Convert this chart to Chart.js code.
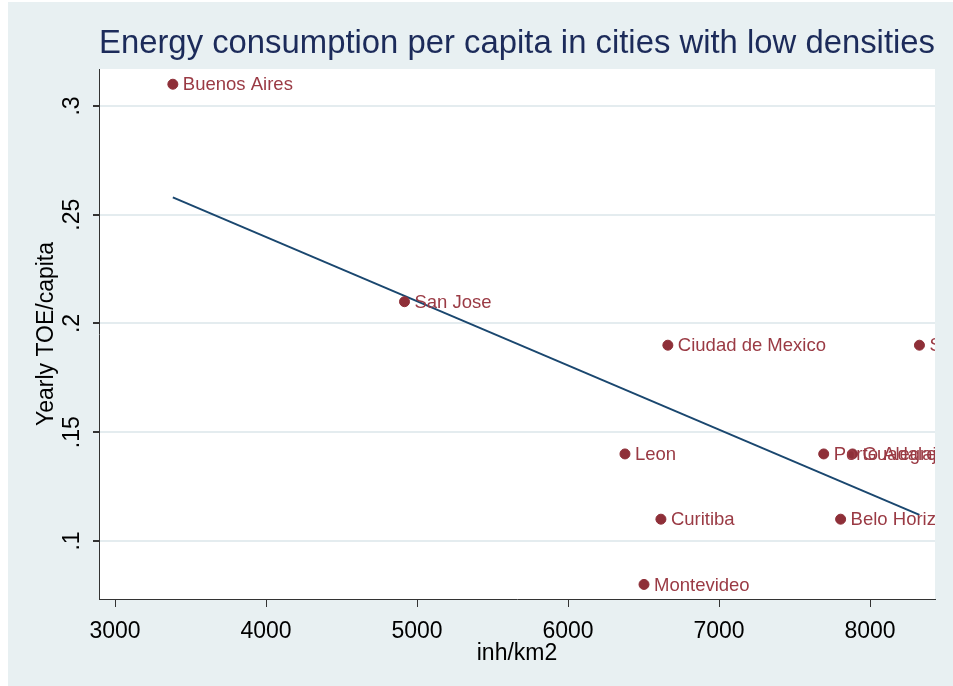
<!DOCTYPE html>
<html>
<head>
<meta charset="utf-8">
<script src="https://cdn.jsdelivr.net/npm/chart.js@4.4.0/dist/chart.umd.min.js"></script>
<style>
  html, body { margin: 0; padding: 0; background: #fff; }
  #wrap { width: 953px; height: 686px; }
</style>
</head>
<body>
<div id="wrap"><canvas id="chart" width="953" height="686"></canvas></div>
<script>
// values
var cities  = ['Buenos Aires', 'San Jose', 'Ciudad de Mexico', 'Sao Paulo', 'Leon',
               'Porto Alegre', 'Guadalajara', 'Curitiba', 'Belo Horizonte', 'Montevideo'];
var density = [3383, 4917, 6661, 8327, 6377, 7693, 7884, 6615, 7805, 6503];
var toe     = [0.31, 0.21, 0.19, 0.19, 0.14, 0.14, 0.14, 0.11, 0.11, 0.08];

// fitted line end points
var fitX = [3383, 8327];
var fitY = [0.258, 0.112];

var xTicks = [3000, 4000, 5000, 6000, 7000, 8000];
var yTicks = [0.1, 0.15, 0.2, 0.25, 0.3];
var yTickLabels = ['.1', '.15', '.2', '.25', '.3'];

var FONT = "'Liberation Sans', Arial, sans-serif";
var BG = '#e8f0f2';
var maroon = '#8e2f38';
var navy = '#1a476f';

var points = density.map(function (d, i) { return { x: d, y: toe[i] }; });
var fit = fitX.map(function (d, i) { return { x: d, y: fitY[i] }; });

// backgrounds: outer bluish gray, white plot region
var bgPlugin = {
  id: 'bg',
  beforeDraw: function (chart) {
    var ctx = chart.ctx, a = chart.chartArea;
    ctx.save();
    ctx.fillStyle = '#fff';
    ctx.fillRect(0, 0, chart.width, chart.height);
    ctx.fillStyle = BG;
    ctx.fillRect(8, 2, chart.width - 8, chart.height - 2);
    ctx.fillStyle = '#fff';
    ctx.fillRect(a.left, a.top, a.right - a.left, a.bottom - a.top);
    ctx.restore();
  }
};

// city names next to markers, clipped to plot region
var labelPlugin = {
  id: 'cityLabels',
  afterDatasetsDraw: function (chart) {
    var ctx = chart.ctx, a = chart.chartArea;
    var meta = chart.getDatasetMeta(0);
    ctx.save();
    ctx.beginPath();
    ctx.rect(a.left, a.top, a.right - a.left, a.bottom - a.top);
    ctx.clip();
    ctx.font = '18.5px ' + FONT;
    ctx.fillStyle = '#9a3a44';
    ctx.textAlign = 'left';
    ctx.textBaseline = 'middle';
    meta.data.forEach(function (el, i) {
      ctx.fillText(cities[i], el.x + 10, el.y + 1);
    });
    ctx.restore();
  }
};

// rotated y tick labels (stata style)
var yLabelPlugin = {
  id: 'yLabels',
  afterDraw: function (chart) {
    var ctx = chart.ctx, sc = chart.scales.y;
    ctx.save();
    ctx.font = '23px ' + FONT;
    ctx.fillStyle = '#000';
    ctx.textAlign = 'center';
    ctx.textBaseline = 'alphabetic';
    yTicks.forEach(function (v, i) {
      var py = sc.getPixelForValue(v);
      ctx.save();
      ctx.translate(79, py);
      ctx.rotate(-Math.PI / 2);
      ctx.fillText(yTickLabels[i], 0, 0);
      ctx.restore();
    });
    ctx.restore();
  }
};

var config = {
  data: {
    datasets: [{
      type: 'scatter',
      data: points,
      backgroundColor: maroon,
      borderColor: maroon,
      pointRadius: 5,
      pointHoverRadius: 5
    }, {
      type: 'line',
      data: fit,
      borderColor: navy,
      borderWidth: 2,
      pointRadius: 0,
      fill: false
    }]
  },
  options: {
    responsive: false,
    animation: false,
    layout: { padding: { left: 0, right: 18, top: 0, bottom: 0 } },
    plugins: {
      legend: { display: false },
      tooltip: { enabled: false },
      title: {
        display: true,
        fullSize: false,
        text: 'Energy consumption per capita in cities with low densities',
        color: '#1c2b5a',
        font: { family: FONT, size: 33, weight: 'normal' },
        padding: { top: 23.7, bottom: 5.7 }
      }
    },
    scales: {
      x: {
        type: 'linear',
        min: 2894,
        max: 8430,
        afterBuildTicks: function (s) { s.ticks = xTicks.map(function (v) { return { value: v }; }); },
        afterFit: function (s) { s.height = 87; },
        ticks: {
          autoSkip: false, maxRotation: 0, padding: 11,
          color: '#000', font: { family: FONT, size: 23 },
          callback: function (v) { return String(v); }
        },
        grid: { drawOnChartArea: false, drawTicks: true, tickLength: 8, tickColor: '#333' },
        border: { display: true, color: '#333', width: 1 },
        title: {
          display: true, text: 'inh/km2', color: '#000',
          font: { family: FONT, size: 23 }, padding: { top: 0, bottom: 19 }
        }
      },
      y: {
        type: 'linear',
        min: 0.0733,
        max: 0.317,
        afterBuildTicks: function (s) { s.ticks = yTicks.map(function (v) { return { value: v }; }); },
        afterFit: function (s) { s.width = 99; },
        ticks: { display: false },
        grid: { color: '#e4ecef', lineWidth: 2, drawTicks: true, tickLength: 6, tickColor: '#333' },
        border: { display: true, color: '#333', width: 1 },
        title: {
          display: true, text: 'Yearly TOE/capita', color: '#000',
          font: { family: FONT, size: 23 }, padding: { top: 33, bottom: 0 }
        }
      }
    }
  },
  plugins: [bgPlugin, labelPlugin, yLabelPlugin]
};

window.onload = function () {
  var ctx = document.getElementById('chart').getContext('2d');
  window.myChart = new Chart(ctx, config);
};
</script>
</body>
</html>
